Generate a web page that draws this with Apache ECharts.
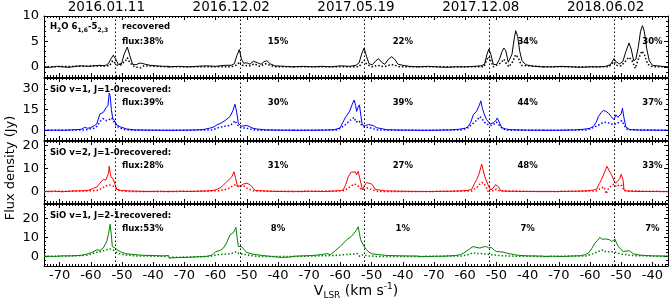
<!DOCTYPE html>
<html><head><meta charset="utf-8">
<script src="https://cdn.jsdelivr.net/npm/echarts@6/dist/echarts.min.js"></script>
<style>html,body{margin:0;padding:0;background:#fff}#c{width:672px;height:303px}</style>
</head><body><div id="c"></div><script>
// ---------------- DATA ----------------
const EPOCHS = ['2016.01.11','2016.12.02','2017.05.19','2017.12.08','2018.06.02'];
const VEL_TICKS = [-70,-60,-50,-40];
const SYSTEMIC_V = -52.2;
const PANEL_NAMES = ['H2O','SiO v=1, J=1-0','SiO v=2, J=1-0','SiO v=1, J=2-1'];
const H2O_PCT = ['38%','15%','22%','34%','30%'];
const SIO_V1_J10_PCT = ['39%','30%','39%','44%','37%'];
const SIO_V2_J10_PCT = ['28%','31%','27%','48%','33%'];
const SIO_V1_J21_PCT = ['53%','8%','1%','7%','7%'];
const H2O_YTICKS = [0,5,10];
const SIO_V1_J10_YTICKS = [0,15,30];
const SIO_V2_J10_YTICKS = [0,10,20];
const SIO_V1_J21_YTICKS = [0,10,20];

// [velocity (km/s), flux (Jy)] per epoch
const H2O_SOLID = [
 [[-75,0],[-73,-0.1],[-71,0.1],[-69,0],[-67,-0.1],[-65,0.1],[-63,0.2],[-61,0.1],[-59,0.2],[-57,0.3],[-55.5,0.2],[-54.4,0.6],[-53.5,1.6],[-52.8,2.3],[-52,1.5],[-51.2,0.5],[-50.3,0.3],[-49.3,2.5],[-48.3,3.9],[-47.5,2.2],[-46.6,0.5],[-45.5,0.4],[-44.5,0.7],[-43.7,0.7],[-42.5,0.5],[-41,0.3],[-39,0.2],[-37,0.1],[-35,0.1]],
 [[-75,0],[-72,0.1],[-69,0],[-66,0.1],[-63,0.2],[-60,0.1],[-57,0.3],[-55,0.3],[-54,0.6],[-53.2,2.2],[-52.4,3.4],[-51.7,1.5],[-51,0.7],[-50,0.8],[-49,0.5],[-47.9,1.1],[-46.5,0.8],[-45.5,0.5],[-44.5,1],[-43.6,1.2],[-42.5,0.6],[-41,0.2],[-38,0.1],[-35,0]],
 [[-75,0],[-72,0.1],[-69,0],[-66,0.1],[-63,0],[-60,0.2],[-57,0.1],[-55,0.3],[-54,0.8],[-53.2,2.5],[-52.4,3.7],[-51.6,2],[-50.8,0.6],[-49.8,0.4],[-48.6,1.2],[-47.8,1.6],[-46.8,0.9],[-45.8,0.5],[-44.6,1.5],[-43.6,2.0],[-42.6,1.5],[-41.5,0.5],[-40,0.3],[-38,0.1],[-35,0]],
 [[-75,0],[-72,0.1],[-69,0],[-66,-0.1],[-63,0],[-60,0],[-57,0.1],[-55,0.2],[-53.8,0.5],[-53,2.5],[-52.4,3.5],[-51.8,2.5],[-51,0.5],[-50,0.4],[-49,1.5],[-48.2,3],[-47.6,3.7],[-47,3.2],[-46.2,0.9],[-45.6,0.8],[-45,2.5],[-44.3,5.5],[-43.8,7.1],[-43.2,6],[-42.5,3],[-41.8,1.2],[-40.5,0.4],[-38,0.1],[-35,0]],
 [[-75,0],[-72,0],[-69,0.1],[-66,0],[-63,-0.1],[-60,0],[-57,0],[-55,0.1],[-53.5,0.4],[-52.3,1.6],[-51.5,0.9],[-50.5,0.6],[-49.5,1],[-48.5,3],[-47.5,4.7],[-46.8,3.5],[-46,1.2],[-45.3,1.5],[-44.5,4],[-43.8,7],[-43.2,8.1],[-42.6,7],[-41.8,3.5],[-41,1.2],[-40,0.3],[-37,0.1],[-35,0]]
];
const H2O_DOTTED = [
 [[-75,0],[-54,0.2],[-53,1.2],[-52.5,1.4],[-51.5,0.3],[-49,1],[-48.3,1.8],[-47.5,0.8],[-46,0],[-44,-0.2],[-43,0.2],[-35,0]],
 [[-75,0],[-55,0],[-53,0.4],[-52.4,1],[-51.5,0.3],[-49,0.2],[-47.5,0.6],[-46,0.1],[-44,0.6],[-43,0.4],[-41,0],[-35,0]],
 [[-75,0],[-54,0],[-53,0.9],[-52.4,1.3],[-51.6,0.5],[-50,0],[-48,0.3],[-46,0],[-44,0.4],[-43,0.4],[-41,0],[-35,0]],
 [[-75,0],[-54,0],[-53,1.5],[-52.4,2],[-51.8,1.2],[-51,0],[-48.5,0.8],[-47.6,1.5],[-47,0.8],[-46,0],[-44.8,1],[-43.8,2.4],[-43,1.8],[-42,0.3],[-35,0]],
 [[-75,0],[-54,0],[-52.3,1],[-51.5,0.3],[-50,0.2],[-48.5,1.2],[-47.5,1.9],[-46.5,1.2],[-45.5,-0.3],[-44.5,1.5],[-43.4,3.1],[-42.6,2.5],[-41.5,0.5],[-40,0],[-35,0]]
];
const SIO_V1_J10_SOLID = [
 [[-75,0],[-72,0.2],[-69,0.1],[-66,0.3],[-63,0.8],[-62,2.2],[-61,1.5],[-60,2],[-58.8,3.5],[-58.1,4.6],[-57.1,11.8],[-56,13],[-55.1,16.5],[-54.5,18],[-54.1,27],[-53.8,25],[-53.4,15],[-53,9],[-52.4,7],[-51.7,4],[-50.5,2.5],[-48.5,1],[-46,0.4],[-42,0.2],[-38,0.1],[-35,0]],
 [[-75,0],[-72,0.1],[-69,0.2],[-66,0.3],[-64,0.6],[-62,1.5],[-60.5,2.5],[-59.6,4],[-58.5,5],[-57,7],[-55.4,10],[-54.5,14],[-53.8,19],[-53.3,14],[-52.7,5],[-51.8,3],[-50.9,3.2],[-50,3.6],[-49,2.6],[-48,1.5],[-46.8,1],[-44,0.4],[-40,0.2],[-35,0.1]],
 [[-75,0],[-70,0.1],[-65,0.2],[-62,0.5],[-60.1,1.7],[-58.5,9],[-57,14],[-56.2,19],[-55.6,22],[-55.1,18],[-54.8,13.7],[-54.3,17],[-53.9,18.5],[-53.4,10],[-53,4],[-52,3.5],[-51,4.2],[-50.5,4.6],[-49.5,3.5],[-48.5,2],[-47.9,1],[-45,0.4],[-40,0.2],[-35,0.1]],
 [[-75,0],[-70,0.1],[-65,0.3],[-62,0.8],[-60,1.5],[-59,2.9],[-58.2,6],[-57.4,11.3],[-56.3,14],[-55.5,18],[-55,21.4],[-54.5,16],[-54,12.5],[-53.2,8],[-52,4.6],[-51,5.5],[-50.2,7],[-49.7,9],[-49.1,6],[-48.3,2],[-47,1],[-45.6,0.5],[-40,0.2],[-35,0.1]],
 [[-75,0],[-70,0.1],[-65,0.3],[-62,0.8],[-60,1.5],[-58.9,2.9],[-58,6],[-57.3,10],[-56.4,13],[-55.7,14.4],[-54.9,13.8],[-54.1,12.5],[-53.2,10],[-52.3,7.7],[-51.7,11.3],[-51.1,9.5],[-50.6,8.6],[-50,12],[-49.6,16],[-49.1,9],[-48.5,2.4],[-47.2,0.5],[-44,0.2],[-35,0.1]]
];
const SIO_V1_J10_DOTTED = [
 [[-75,0],[-62,0.3],[-59,1.5],[-58,3],[-57,6.5],[-56,8.5],[-55,7],[-54,8],[-53.3,9],[-52.5,6],[-51.7,3],[-50.5,1.5],[-49,0.5],[-46,0],[-35,0]],
 [[-75,0],[-61,0.3],[-59,2],[-57,3],[-55.5,3.5],[-54.5,5],[-53.8,7],[-53,4],[-52,2],[-50,1.5],[-48,0.5],[-46,0],[-35,0]],
 [[-75,0],[-61,0.3],[-59,3],[-57.5,6],[-56.5,8],[-55.6,9.4],[-55,6],[-54,7],[-53.3,4],[-52,2],[-51,2.2],[-50,1.5],[-48,0.3],[-35,0]],
 [[-75,0],[-61,0.3],[-59,2],[-57.5,5],[-56,8],[-55.3,10],[-54.5,8],[-53.5,5],[-52,3.5],[-51,4],[-50,6],[-49.2,4],[-48,1],[-46,0],[-35,0]],
 [[-75,0],[-61,0.3],[-59,2],[-57.5,3.5],[-56,5.5],[-54.8,6],[-53.5,5],[-52.5,4],[-51.5,5],[-50.5,6],[-49.8,7],[-49,3.5],[-48,0.5],[-35,0]]
];
const SIO_V2_J10_SOLID = [
 [[-75,0],[-72,0.1],[-69,-0.1],[-66,0.2],[-63,0.3],[-61,0.5],[-60.3,0.7],[-59,1.5],[-58,2],[-57.1,3.6],[-56,5.3],[-55.2,5],[-54.7,5],[-54.3,8],[-54.1,11],[-53.8,8],[-53.5,6.4],[-52.8,5.3],[-52.2,3],[-51.7,1],[-50.5,0.5],[-47,0.2],[-42,0],[-38,0.1],[-35,0]],
 [[-75,0],[-72,0.1],[-69,0],[-66,0.1],[-63,0.2],[-60.5,0.5],[-58.6,1.5],[-57.5,2.8],[-56.4,4.3],[-55.5,5.5],[-54.8,6.4],[-54.1,8.6],[-53.6,6],[-53,2.1],[-52,2.5],[-51,3.3],[-50,3.6],[-49,3],[-48,1.5],[-47.4,0.5],[-44,0.2],[-40,0],[-35,0.1]],
 [[-75,0],[-70,0.1],[-65,0],[-62,0.2],[-60,0.4],[-59.1,0.7],[-58.3,3],[-57.5,6.4],[-56.5,8.5],[-55.9,9.3],[-55.2,8.5],[-54.8,7.3],[-54.3,8.8],[-54,8.6],[-53.5,4],[-52.9,0.7],[-52.3,2.5],[-51.6,3.9],[-50.8,3.6],[-50,3.3],[-49.3,2],[-48.9,1],[-46,0.3],[-40,0.1],[-35,0]],
 [[-75,0],[-70,0],[-65,0.1],[-61,0.3],[-59,0.5],[-57.9,1],[-57,3.5],[-56.3,5.3],[-55.6,7.5],[-55,10.5],[-54.7,11.9],[-54.2,9],[-53.7,6.4],[-53,4],[-52.4,2],[-51.8,0.7],[-51,1.5],[-50.3,3],[-49.9,3.6],[-49.3,2],[-48.6,0.3],[-46,0.1],[-40,0],[-35,0]],
 [[-75,0],[-70,0],[-65,0.1],[-61,0.3],[-59,0.6],[-57.9,1],[-57,3.5],[-56.3,5.3],[-55.3,8.5],[-54.6,11],[-54.2,10.5],[-53.6,8.5],[-53.1,7.3],[-52.4,5],[-51.8,3.6],[-51.2,4.5],[-50.5,5.5],[-50,7.5],[-49.8,8.3],[-49.4,5],[-49.1,0.7],[-48,0.2],[-44,0],[-35,0]]
];
const SIO_V2_J10_DOTTED = [
 [[-75,0],[-60,0.3],[-58,0.5],[-57,1],[-56,1.8],[-55,2.5],[-54,2.8],[-53,2.5],[-52,1.5],[-51,0.5],[-48,0],[-35,0]],
 [[-75,0],[-59,0.3],[-57,0.8],[-55.5,1.5],[-54.5,2.5],[-53.5,3],[-52.5,2],[-51,2.5],[-50,1.5],[-48,0.3],[-35,0]],
 [[-75,0],[-59,0.3],[-57.5,1.5],[-56.5,2.5],[-55.5,3.2],[-54.8,3],[-54,2],[-53.3,1],[-52.5,1],[-51.5,1.5],[-50,0.8],[-48,0],[-35,0]],
 [[-75,0],[-58,0.2],[-56.5,1.5],[-55.5,3],[-54.7,4],[-54,3.5],[-53.3,2],[-52.5,-0.5],[-52,0.5],[-51,0.3],[-50,1],[-49,0.3],[-35,0]],
 [[-75,0],[-58,0.2],[-56.5,1.5],[-55.5,2],[-54.8,-1],[-54,1.5],[-53,2.8],[-52.2,3.2],[-51.5,2],[-50.5,3],[-49.8,2.5],[-49,0.3],[-35,0]]
];
const SIO_V1_J21_SOLID = [
 [[-75,0.2],[-72,0],[-69,0.3],[-66,0.3],[-63,0.6],[-61.3,1.2],[-59.5,2.2],[-58.1,3.5],[-57,3.2],[-56,4.4],[-54.9,7.8],[-54.3,12],[-53.8,16.9],[-53.4,11],[-53.1,5.2],[-52.2,4.4],[-51.3,3.2],[-50.6,2.6],[-49,1.5],[-46.4,1],[-43,0.6],[-40,0.5],[-37,0.3],[-35,0.5]],
 [[-75,-0.8],[-72,-0.6],[-69,-0.5],[-66,-0.2],[-63,0],[-61,0.8],[-60,2.5],[-59.6,3.5],[-58.5,3.2],[-57.5,4.4],[-56.5,7],[-55.4,11.3],[-54.3,12.5],[-53.8,14],[-53.5,15.3],[-53.1,10],[-52.7,5.2],[-51.7,5.2],[-50.1,2.1],[-48,1.2],[-45,0.5],[-42,0],[-39,-0.5],[-37,-0.4],[-35,0]],
 [[-75,0.1],[-72,0.3],[-69,0.5],[-66,1],[-64,1.5],[-63.3,0.9],[-62,2.5],[-60.1,5.2],[-58,8.7],[-56.5,10.5],[-55.6,12.2],[-54.8,14],[-54.3,15.6],[-53.9,12],[-53.5,8.7],[-52.5,5.5],[-51.6,3.5],[-50.8,2.2],[-50,1.4],[-48,1],[-45,0.5],[-40,0.3],[-35,0.2]],
 [[-75,0],[-72,0],[-69,0.1],[-66,0.2],[-63,0.5],[-61.5,1],[-60.6,1.7],[-59,3.5],[-57.5,5.2],[-56.5,4.8],[-55.3,4.4],[-54.2,5],[-53.2,5.2],[-52.5,4.5],[-51.6,4.7],[-50.8,3.5],[-50,2.6],[-49,2.5],[-47.9,2.3],[-46.8,1.8],[-45.7,1.4],[-43,0.6],[-40,0.3],[-35,0.2]],
 [[-75,0],[-72,0.1],[-69,0],[-66,0.2],[-63,0.4],[-61.5,1],[-60.5,1.7],[-59.5,4],[-58.4,7],[-57.5,8.5],[-56.8,10.1],[-56.2,9],[-55.7,8.7],[-55,9.2],[-54.6,9.5],[-53.8,8.8],[-53,7.8],[-52.5,8.5],[-52,9.1],[-51.5,7],[-50.9,5.2],[-50,3.5],[-49.3,2.6],[-48.5,2.8],[-47.4,3],[-46.8,2],[-46.1,1.4],[-44,0.7],[-40,0.3],[-35,0.2]]
];
const SIO_V1_J21_DOTTED = [
 [[-75,0],[-62,0.5],[-60,1.2],[-58.5,2],[-57,2.5],[-56,3],[-55,3.5],[-54,4],[-53,3.5],[-52,2.5],[-51,1.5],[-49,0.8],[-46,0.3],[-35,0]],
 [[-75,-0.5],[-62,0],[-59,1],[-57,1.2],[-55,1.5],[-54,2],[-53.3,2.5],[-52.5,1.5],[-51,1.2],[-49,0.5],[-46,0],[-35,0]],
 [[-75,0],[-62,0.5],[-58,1],[-56,1.2],[-54.5,1.5],[-53.8,0],[-53,0.8],[-51,0.3],[-48,0],[-35,0]],
 [[-75,0],[-61,0.3],[-58.5,1.2],[-57.5,2],[-56.5,1.5],[-55,1.5],[-53,1.2],[-51,0.8],[-49,0.5],[-46,0.2],[-35,0]],
 [[-75,0],[-61,0.3],[-59,1.5],[-57.5,2.5],[-56.5,3],[-55.7,3.5],[-55,2.5],[-53.5,2.5],[-52.5,2.5],[-51.5,2],[-50,1.2],[-48.5,1],[-47,0.5],[-35,0]]
];

// ---------------- LAYOUT ----------------
const FONT = 'DejaVu Sans';
const GRID_LEFT = 44, GRID_W = 624, PANEL_TOPS = [15, 78, 141, 204], PANEL_H = 62;
const SEG_W = 40, XMIN = 5, XMAX = 205;
const gx = (k, v) => k * SEG_W + v + 80;          // velocity in epoch k -> global axis coord
const px = g => GRID_LEFT + (g - XMIN) * GRID_W / (XMAX - XMIN);

const panels = [
  {solid:H2O_SOLID, dotted:H2O_DOTTED, color:'#000000', ymin:-2, ymax:10, yticks:H2O_YTICKS, yminor:1, pct:H2O_PCT},
  {solid:SIO_V1_J10_SOLID, dotted:SIO_V1_J10_DOTTED, color:'#0000ff', ymin:-7, ymax:38, yticks:SIO_V1_J10_YTICKS, yminor:3.75, pct:SIO_V1_J10_PCT},
  {solid:SIO_V2_J10_SOLID, dotted:SIO_V2_J10_DOTTED, color:'#ff0000', ymin:-5, ymax:22, yticks:SIO_V2_J10_YTICKS, yminor:2, pct:SIO_V2_J10_PCT},
  {solid:SIO_V1_J21_SOLID, dotted:SIO_V1_J21_DOTTED, color:'#008000', ymin:-5, ymax:27.5, yticks:SIO_V1_J21_YTICKS, yminor:2, pct:SIO_V1_J21_PCT}
];

const majorX = [], minorX = [];
for (let k = 0; k < EPOCHS.length; k++) {
  VEL_TICKS.forEach(v => majorX.push(gx(k, v)));
  for (let v = -75; v <= -35; v++) if (k === 0 || v > -75) minorX.push(gx(k, v));
}
const epochCenters = EPOCHS.map((e, k) => gx(k, -55));

const grids = [], xAxes = [], yAxes = [], series = [];
const black = {color:'#000', width:1};
panels.forEach((p, pi) => {
  grids.push({left: GRID_LEFT, width: GRID_W, top: PANEL_TOPS[pi], height: PANEL_H, show:false});
  const baseX = {type:'value', gridIndex: pi, min: XMIN, max: XMAX, splitLine:{show:false}, axisLine:{show:true, onZero:false, lineStyle:black}};
  xAxes.push(Object.assign({}, baseX, {position:'bottom',
    axisTick:{show:true, inside:true, length:4, customValues: majorX, lineStyle:black},
    axisLabel:{show: pi === 3, customValues: majorX, margin: 3, color:'#000', fontFamily: FONT, fontSize: 13,
      formatter: val => { const k = Math.floor((val - XMIN) / SEG_W); return String(Math.round(val - 80 - k * SEG_W)); }}}));
  xAxes.push(Object.assign({}, baseX, {position:'top',
    axisTick:{show:true, inside:true, length:4, customValues: majorX, lineStyle:black},
    axisLabel:{show: pi === 0, customValues: epochCenters, margin: 2, color:'#000', fontFamily: FONT, fontSize: 13.5,
      formatter: val => EPOCHS[Math.round((val - 25) / SEG_W)]}}));
  for (let m = 0; m < 2; m++) xAxes.push(Object.assign({}, baseX, {position: m ? 'top' : 'bottom', axisLine:{show:false, onZero:false},
    axisTick:{show:true, inside:true, length:2, customValues: minorX, lineStyle:black}, axisLabel:{show:false}}));

  const minorY = [];
  for (let v = Math.ceil(p.ymin / p.yminor) * p.yminor; v <= p.ymax + 1e-9; v += p.yminor) minorY.push(+v.toFixed(4));
  const baseY = {type:'value', gridIndex: pi, min: p.ymin, max: p.ymax, splitLine:{show:false}, axisLine:{show:true, onZero:false, lineStyle:black}};
  yAxes.push(Object.assign({}, baseY, {position:'left',
    axisTick:{show:true, inside:true, length:4, customValues: p.yticks, lineStyle:black},
    axisLabel:{show:true, customValues: p.yticks, margin: 5, color:'#000', fontFamily: FONT, fontSize: 13}}));
  yAxes.push(Object.assign({}, baseY, {position:'right',
    axisTick:{show:true, inside:true, length:4, customValues: p.yticks, lineStyle:black}, axisLabel:{show:false}}));
  for (let m = 0; m < 2; m++) yAxes.push(Object.assign({}, baseY, {position: m ? 'right' : 'left', axisLine:{show:false, onZero:false},
    axisTick:{show:true, inside:true, length:2, customValues: minorY, lineStyle:black}, axisLabel:{show:false}}));

  for (let k = 0; k < EPOCHS.length; k++) {
    const s = {type:'line', xAxisIndex: pi * 4, yAxisIndex: pi * 4, symbol:'none', animation:false, z:3,
      data: p.solid[k].map(d => [gx(k, d[0]), d[1]]), lineStyle:{color: p.color, width: 1}};
    if (k === 0) s.markLine = {silent:true, symbol:'none', animation:false, label:{show:false},
      lineStyle:{color:'#000', width:1, type:[1.5, 2.5]},
      data: EPOCHS.map((e, kk) => ({xAxis: gx(kk, SYSTEMIC_V)}))};
    series.push(s);
    series.push({type:'line', xAxisIndex: pi * 4, yAxisIndex: pi * 4, symbol:'none', animation:false, z:3,
      data: p.dotted[k].map(d => [gx(k, d[0]), d[1]]), lineStyle:{color: p.color, width: 1.5, type:[1.5, 2]}});
  }
});

// ---------------- TEXT ----------------
const graphic = [];
const bold = '700 8.5px "' + FONT + '"';
graphic.push({type:'text', x: 50, y: PANEL_TOPS[0] + 12, style:{
  text:'{b|H}{s|2}{b|O 6}{s|1,6}{b|-5}{s|2,3}', textAlign:'left', textVerticalAlign:'middle',
  rich:{b:{fontFamily: FONT, fontWeight:700, fontSize:8.5, lineHeight:12, verticalAlign:'middle'},
        s:{fontFamily: FONT, fontWeight:700, fontSize:6, lineHeight:12, verticalAlign:'bottom', padding:[4,0,0,0]}}}});
graphic.push({type:'text', x: px(gx(0, -50)), y: PANEL_TOPS[0] + 12, style:{text:'recovered', font: bold, textAlign:'left', textVerticalAlign:'middle', fill:'#000'}});
[1,2,3].forEach(pi => graphic.push({type:'text', x: 50, y: PANEL_TOPS[pi] + 12,
  style:{text: PANEL_NAMES[pi] + 'recovered:', font: bold, textAlign:'left', textVerticalAlign:'middle', fill:'#000'}}));
panels.forEach((p, pi) => {
  const y2 = PANEL_TOPS[pi] + (pi === 0 ? 26.5 : 24.5);
  graphic.push({type:'text', x: px(gx(0, -50)), y: y2, style:{text:'flux:' + p.pct[0], font: bold, textAlign:'left', textVerticalAlign:'middle', fill:'#000'}});
  for (let k = 1; k < EPOCHS.length; k++)
    graphic.push({type:'text', x: px(gx(k, -40)), y: y2, z: 10, style:{text: p.pct[k], font: bold, textAlign:'center', textVerticalAlign:'middle', fill:'#000'}});
});
graphic.push({type:'text', x: 11, y: 168, rotation: Math.PI / 2, style:{text:'Flux density (Jy)', font:'13px "' + FONT + '"', textAlign:'center', textVerticalAlign:'middle', fill:'#000'}});
graphic.push({type:'text', x: 356, y: 291, style:{
  text:'{a|V}{b|LSR}{a| (km s}{c|-1}{a|)}', textAlign:'center', textVerticalAlign:'middle',
  rich:{a:{fontFamily: FONT, fontSize:14, lineHeight:18, verticalAlign:'middle'},
        b:{fontFamily: FONT, fontSize:9, lineHeight:18, verticalAlign:'bottom', padding:[6,0,0,0]},
        c:{fontFamily: FONT, fontSize:9, lineHeight:18, verticalAlign:'top', padding:[0,0,6,0]}}}});

const chart = echarts.init(document.getElementById('c'), null, {renderer:'canvas'});
chart.setOption({animation:false, backgroundColor:'#fff', grid: grids, xAxis: xAxes, yAxis: yAxes, series: series, graphic: graphic});
</script></body></html>
